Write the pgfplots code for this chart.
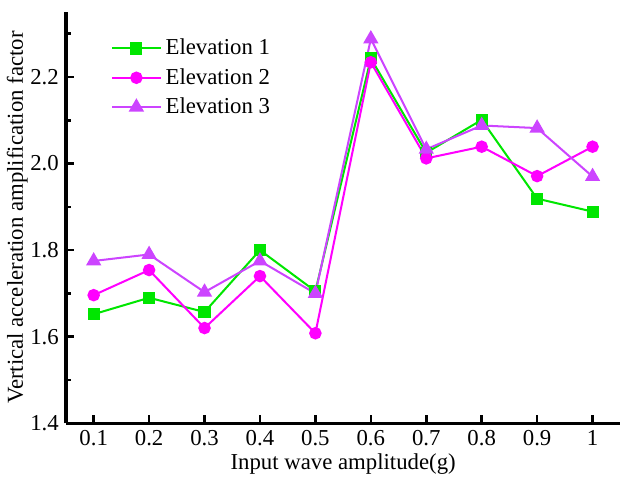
\documentclass[border=0pt]{standalone}
\usepackage{fontspec}
\setmainfont{Liberation Serif}
\usepackage{pgfplots}
\pgfplotsset{compat=1.18}
\definecolor{eone}{RGB}{0,230,0}
\definecolor{etwo}{RGB}{255,0,255}
\definecolor{ethree}{RGB}{204,68,255}
\begin{document}
\begin{tikzpicture}
\begin{axis}[
  scale only axis,
  width=275pt, height=204pt,
  xmin=0.05, xmax=1.05,
  ymin=1.4, ymax=2.35,
  axis x line*=bottom,
  axis y line*=left,
  axis line style={draw=black, line width=1.7pt, -},
  xtick={0.1,0.2,0.3,0.4,0.5,0.6,0.7,0.8,0.9,1},
  xticklabels={0.1,0.2,0.3,0.4,0.5,0.6,0.7,0.8,0.9,1},
  ytick={1.4,1.6,1.8,2.0,2.2},
  yticklabels={1.4,1.6,1.8,2.0,2.2},
  minor ytick={1.5,1.7,1.9,2.1,2.3},
  tick align=inside,
  major tick length=4pt,
  minor tick length=2.5pt,
  every tick/.style={draw=black, line width=1.3pt},
  ticklabel style={font=\fontsize{11.3}{13}\selectfont},
  label style={font=\fontsize{11.3}{13}\selectfont},
  xlabel={Input wave amplitude(g)},
  ylabel={Vertical acceleration amplification factor},
  xlabel style={yshift=3pt},
  ylabel style={yshift=-5.5pt},
  legend style={draw=none, fill=none, at={(0.07,0.955)}, anchor=north west,
    font=\fontsize{11.3}{13}\selectfont, row sep=1.2pt},
  legend image code/.code={%
    \draw[mark repeat=2,mark phase=2] plot coordinates {(0pt,0pt) (12pt,0pt) (24pt,0pt)};},
  legend cell align=left,
  clip=false,
]
\addplot[eone, line width=1pt, mark=square*, mark size=2.5pt, mark options={solid}] coordinates {
(0.1,1.652) (0.2,1.690) (0.3,1.657) (0.4,1.800) (0.5,1.705)
(0.6,2.243) (0.7,2.025) (0.8,2.101) (0.9,1.919) (1.0,1.889)};
\addlegendentry{Elevation 1}
\addplot[etwo, line width=1pt, mark=*, mark size=2.6pt] coordinates {
(0.1,1.696) (0.2,1.754) (0.3,1.620) (0.4,1.740) (0.5,1.608)
(0.6,2.234) (0.7,2.012) (0.8,2.039) (0.9,1.971) (1.0,2.039)};
\addlegendentry{Elevation 2}
\addplot[ethree, line width=1pt, mark=triangle*, mark size=3.4pt] coordinates {
(0.1,1.775) (0.2,1.790) (0.3,1.703) (0.4,1.775) (0.5,1.700)
(0.6,2.288) (0.7,2.033) (0.8,2.088) (0.9,2.082) (1.0,1.970)};
\addlegendentry{Elevation 3}
\end{axis}
\path ([yshift=6pt]current axis.north west);
\end{tikzpicture}
\end{document}
